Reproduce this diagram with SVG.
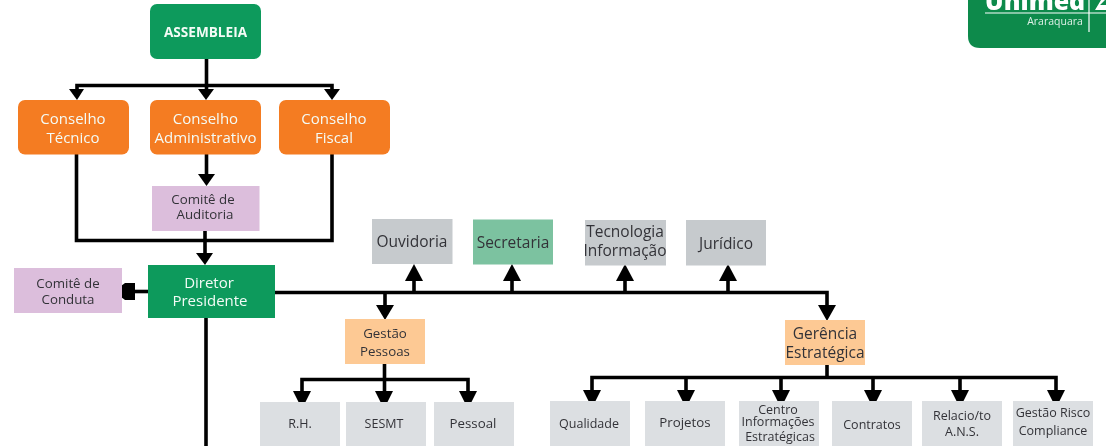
<svg xmlns="http://www.w3.org/2000/svg" width="1106" height="446" viewBox="0 0 1106 446">
<defs>
<style>
text{font-family:"Open Sans","Noto Sans","Liberation Sans",sans-serif;text-anchor:middle}
.w{fill:#f4fbf6}.d{fill:#333338}
.f16{font-size:15px}.f15{font-size:15.5px}.f13{font-size:13.300px}.f12{font-size:12.500px}
.g{fill:#0a9a5c}.o{fill:#f47b20}.p{fill:#dcbedc}.s{fill:#c6cacd}.l{fill:#dcdfe2}.a{fill:#fdc994}.m{fill:#7cc2a0}
.c path{fill:none;stroke:#000;stroke-width:3.6}
.c polygon{fill:#000}
</style>
<filter id="soft" x="0" y="0" width="100%" height="100%"><feGaussianBlur stdDeviation="0.45"/></filter>
<clipPath id="logoClip"><path d="M968 0H1106V48H980Q968 48 968 36Z"/></clipPath>
</defs>
<rect width="1106" height="446" fill="#fff"/>
<g filter="url(#soft)">
<g id="connectors" class="c">
<path d="M206.500 59V92M77 92V85.500H332V92"/>
<path d="M206.500 154V176"/>
<path d="M76.500 154V240.500H332V154"/>
<path d="M205 231V256"/>
<path d="M148 291.500H130"/>
<path d="M206 318V446"/>
<path d="M275 292.500H827V310"/>
<path d="M414 292.500V278M512 292.500V278M625 292.500V278M728 292.500V278M385 292.500V310"/>
<path d="M384.500 364V392M302 392V379.500H468V392"/>
<path d="M827 365V377.500M592 392V377.500H1056V392M686 377.500V392M781 377.500V392M873 377.500V392M960 377.500V392"/>
<polygon points="69,89 84,89 77,100"/><polygon points="198,89 214,89 206,100"/><polygon points="324,89 340,89 332,100"/>
<polygon points="198,174 215,174 206.500,186"/>
<polygon points="196,253 213,253 205,265"/>
<polygon points="135,283 125,283 121,286 121,297 125,300 135,300"/>
<polygon points="405,281 423,281 414,264"/><polygon points="503,281 521,281 512,264"/><polygon points="616,281 634,281 625,264"/><polygon points="719,281 737,281 728,264"/>
<polygon points="376,305 394,305 385,320"/><polygon points="818,305 836,305 827,321"/>
<polygon points="293,391 311,391 305,403 299,403"/><polygon points="375,391 393,391 387,403 381,403"/><polygon points="459,391 477,391 471,403 465,403"/>
<polygon points="583,390 601,390 595,402 589,402"/><polygon points="677,390 695,390 689,402 683,402"/><polygon points="772,390 790,390 784,402 778,402"/><polygon points="864,390 882,390 876,402 870,402"/><polygon points="951,390 969,390 963,402 957,402"/><polygon points="1047,390 1065,390 1059,402 1053,402"/>
</g>
<g id="assembleia"><rect class="g" x="150" y="4" width="111" height="55" rx="7"/><text class="w" x="205.500" y="37" font-size="13.600" font-weight="700">ASSEMBLEIA</text></g>
<g id="conselho-tecnico"><rect class="o" x="18" y="100" width="111" height="54.500" rx="7"/><text class="w f16" x="73" y="124">Conselho</text><text class="w f16" x="73" y="143">Técnico</text></g>
<g id="conselho-administrativo"><rect class="o" x="150" y="100" width="111" height="54.500" rx="7"/><text class="w f16" x="205.500" y="124">Conselho</text><text class="w f16" x="205.500" y="143">Administrativo</text></g>
<g id="conselho-fiscal"><rect class="o" x="279" y="100" width="111" height="54.500" rx="7"/><text class="w f16" x="334" y="124">Conselho</text><text class="w f16" x="334" y="143">Fiscal</text></g>
<g id="comite-auditoria"><rect class="p" x="152" y="186" width="107.500" height="45"/><text class="d f13" x="203" y="204">Comitê de</text><text class="d f13" x="205" y="219">Auditoria</text></g>
<g id="diretor-presidente"><rect class="g" x="148" y="265" width="127" height="53"/><text class="w f16" x="209" y="288">Diretor</text><text class="w f16" x="210" y="306">Presidente</text></g>
<g id="comite-conduta"><rect class="p" x="14" y="268" width="108" height="45"/><text class="d f13" x="68" y="288">Comitê de</text><text class="d f13" x="68" y="304">Conduta</text></g>
<g id="ouvidoria"><rect class="s" x="372" y="219" width="80.500" height="45"/><text class="d f15" x="412" y="247">Ouvidoria</text></g>
<g id="secretaria"><rect class="m" x="473" y="219.500" width="80" height="45"/><text class="d f15" x="513" y="248">Secretaria</text></g>
<g id="tecnologia"><rect class="s" x="585" y="220" width="81" height="45.500"/><text class="d f15" x="625" y="237">Tecnologia</text><text class="d f15" x="625" y="256">Informação</text></g>
<g id="juridico"><rect class="s" x="686" y="220" width="80" height="45.500"/><text class="d f15" x="726" y="249">Jurídico</text></g>
<g id="gestao-pessoas"><rect class="a" x="345" y="319" width="80" height="45"/><text class="d f13" x="385" y="338">Gestão</text><text class="d f13" x="385" y="356">Pessoas</text></g>
<g id="gerencia"><rect class="a" x="785" y="320" width="80" height="45"/><text class="d f15" x="825" y="339">Gerência</text><text class="d f15" x="825" y="358">Estratégica</text></g>
<g id="rh"><rect class="l" x="260" y="402" width="80" height="44"/><text class="d f12" x="300" y="428">R.H.</text></g>
<g id="sesmt"><rect class="l" x="346" y="402" width="80" height="44"/><text class="d f12" x="384" y="428">SESMT</text></g>
<g id="pessoal"><rect class="l" x="434" y="402" width="80" height="44"/><text class="d f13" x="473" y="428">Pessoal</text></g>
<g id="qualidade"><rect class="l" x="550" y="401" width="80" height="45"/><text class="d f12" x="589" y="428">Qualidade</text></g>
<g id="projetos"><rect class="l" x="645" y="401" width="80" height="45"/><text class="d f13" x="685" y="427">Projetos</text></g>
<g id="centro"><rect class="l" x="739" y="401" width="80" height="45"/><text class="d f12" x="778" y="414">Centro</text><text class="d f12" x="778" y="426">Informações</text><text class="d f12" x="780" y="441">Estratégicas</text></g>
<g id="contratos"><rect class="l" x="832" y="401" width="80" height="45"/><text class="d f12" x="872" y="429">Contratos</text></g>
<g id="relacionamento"><rect class="l" x="922" y="401" width="80" height="45"/><text class="d f12" x="962" y="420">Relacio/to</text><text class="d f12" x="962" y="436">A.N.S.</text></g>
<g id="gestao-risco"><rect class="l" x="1013" y="401" width="80" height="45"/><text class="d f12" x="1053" y="417">Gestão Risco</text><text class="d f12" x="1053" y="435">Compliance</text></g>
<g id="logo" clip-path="url(#logoClip)"><rect x="968" y="0" width="138" height="48" fill="#0a8a4c"/><text x="1035" y="10" font-size="25" font-weight="800" fill="#fff">Unimed</text><path d="M985 13H1106M1089 0V32" stroke="#fff" stroke-width="1.200" fill="none"/><path d="M1095 10L1101 0H1105L1100 5H1106V10Z" fill="#fff"/><text x="1055" y="25" font-size="10.500" fill="#dff0e6">Araraquara</text></g>
</g>
</svg>
